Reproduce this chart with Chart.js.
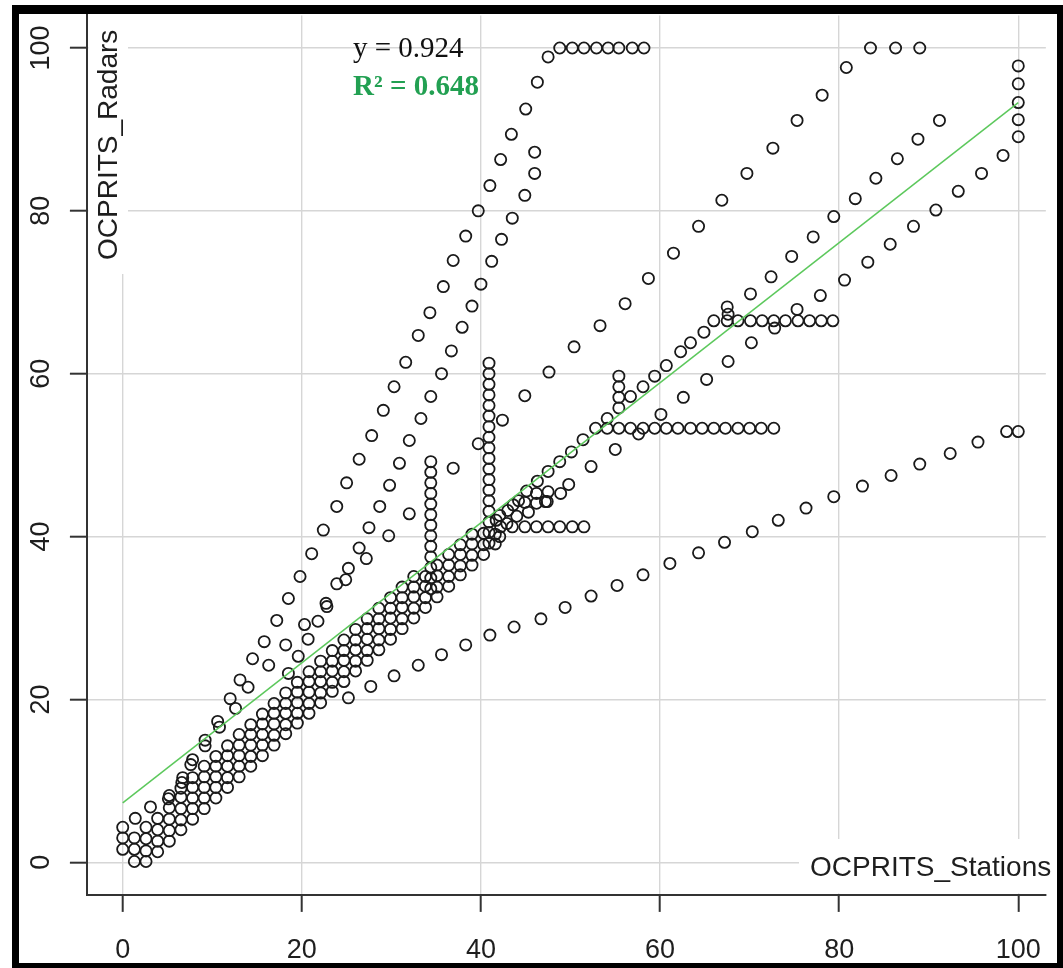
<!DOCTYPE html>
<html><head><meta charset="utf-8">
<script src="https://cdn.jsdelivr.net/npm/chart.js@4.4.1/dist/chart.umd.min.js"></script>
<style>
html,body{margin:0;padding:0;background:#fff;overflow:hidden;}
#wrap{position:relative;width:1063px;height:968px;overflow:hidden;}
canvas{position:absolute;left:0;top:0;}
.frame{position:absolute;background:#000;}
</style></head><body>
<div id="wrap">
<canvas id="c" width="1063" height="968"></canvas>
<div class="frame" style="left:12px;top:5px;width:1051px;height:9px"></div>
<div class="frame" style="left:12px;top:5px;width:7px;height:963px"></div>
<div class="frame" style="left:12px;top:963px;width:1051px;height:5px"></div>
<div class="frame" style="left:1057px;top:5px;width:6px;height:963px"></div>
</div>
<script>
const xTicks = [0, 20, 40, 60, 80, 100];
const yTicks = [0, 20, 40, 60, 80, 100];
const xTitle = 'OCPRITS_Stations';
const yTitle = 'OCPRITS_Radars';
const eqText = 'y = 0.924';
const r2Text = 'R\u00B2 = 0.648';
const fitLine = [[0, 7.3], [100, 93.3]];

const topRow = [[48.8,100],[50.2,100],[51.5,100],[52.9,100],[54.2,100],[55.4,100],[56.9,100],[58.2,100],[83.5,100],[86.3,100],[89.0,100]];
const curveA = [[47.5,98.9],[46.3,95.8],[45.0,92.5],[43.4,89.4],[42.2,86.3],[41.0,83.1],[39.7,80.0],[38.3,76.9],[36.9,73.9],[35.8,70.7],[34.3,67.5],[33.0,64.7],[31.6,61.4],[30.3,58.4],[29.1,55.5],[27.8,52.4],[26.4,49.5],[25.0,46.6],[23.9,43.7],[22.4,40.8],[21.1,37.9],[19.8,35.1],[18.5,32.4],[17.2,29.7],[15.8,27.1],[14.5,25.0],[13.1,22.4],[12.0,20.1],[10.6,17.3],[9.2,15.0],[7.8,12.6],[6.7,10.4],[5.2,8.2],[3.1,6.8],[1.4,5.4]];
const curveA2 = [[14.0,21.5],[12.6,18.9],[10.8,16.6],[9.2,14.3],[7.6,12.0],[6.6,9.8],[5.1,7.8]];
const curveB = [[46.0,87.2],[46.0,84.6],[44.9,81.9],[43.5,79.1],[42.3,76.5],[41.2,73.8],[40.0,71.0],[39.0,68.3],[37.9,65.7],[36.7,62.8],[35.6,60.0],[34.4,57.2],[33.3,54.5],[32.0,51.8],[30.9,49.0],[29.8,46.3],[28.7,43.7],[27.5,41.1],[26.4,38.6],[25.2,36.1]];
const upperMisc = [[24.9,34.7],[23.9,34.2],[22.7,31.8],[22.8,31.4],[21.8,29.6],[20.3,29.2],[20.7,27.4],[19.6,25.3],[18.2,26.7],[18.5,23.2],[16.3,24.2]];
const lineD = [[27.2,37.3],[29.7,40.1],[32.0,42.8],[36.9,48.4],[39.7,51.4],[42.4,54.3],[44.9,57.3],[47.6,60.2],[50.4,63.3],[53.3,65.9],[56.1,68.6],[58.7,71.7],[61.5,74.8],[64.3,78.1],[66.9,81.3],[69.7,84.6],[72.6,87.7],[75.3,91.1],[78.1,94.2],[80.8,97.6]];
const lineE = [[41.7,42.0],[43.0,43.2],[44.2,44.4],[45.1,45.6],[46.3,46.8],[47.5,48.0],[48.8,49.2],[50.1,50.4],[51.4,51.9],[52.8,53.3],[54.1,54.5],[55.4,55.8],[56.7,57.2],[58.1,58.4],[59.4,59.7],[60.7,61.0],[62.3,62.7],[63.4,63.8],[64.9,65.1],[67.6,67.3],[70.1,69.8],[72.4,71.9],[74.7,74.4],[77.1,76.8],[79.4,79.3],[81.8,81.5],[84.1,84.0],[86.5,86.4],[88.8,88.8],[91.2,91.1]];
const lineF = [[47.2,44.3],[49.8,46.4],[52.3,48.6],[55.0,50.7],[60.1,55.0],[62.6,57.1],[65.2,59.3],[67.6,61.5],[70.2,63.8],[72.8,65.6],[75.3,67.9],[77.9,69.6],[80.6,71.5],[83.2,73.7],[85.7,75.9],[88.3,78.1],[90.8,80.1],[93.3,82.4],[95.9,84.6],[98.3,86.8]];
const lineG = [[25.2,20.2],[27.7,21.6],[30.3,22.9],[33.0,24.2],[35.6,25.5],[38.3,26.7],[41.0,27.9],[43.7,28.9],[46.7,29.9],[49.4,31.3],[52.3,32.7],[55.2,34.0],[58.1,35.3],[61.1,36.7],[64.3,38.0],[67.2,39.3],[70.3,40.6],[73.2,42.0],[76.3,43.5],[79.4,44.9],[82.6,46.2],[85.8,47.5],[89.0,48.9],[92.4,50.2],[95.5,51.6],[98.7,52.9],[100,52.9]];
const col100 = [[100,97.8],[100,95.6],[100,93.3],[100,91.2],[100,89.1]];
const stack55 = [[55.4,59.7],[55.4,58.4],[55.4,57.1]];
const row53 = [[54.1,53.3],[55.4,53.3],[56.7,53.3],[58.1,53.3],[59.4,53.3],[60.7,53.3],[62.0,53.3],[63.4,53.3],[64.7,53.3],[66.0,53.3],[67.3,53.3],[68.7,53.3],[70.0,53.3],[71.3,53.3],[72.7,53.3],[57.6,52.6]];
const row66 = [[66.0,66.5],[67.5,66.5],[68.7,66.5],[70.1,66.5],[71.4,66.5],[72.7,66.5],[74.0,66.5],[75.4,66.5],[76.7,66.5],[78.0,66.5],[79.3,66.5],[67.5,68.2]];
const row41 = [[42.2,41.2],[43.5,41.2],[44.9,41.2],[46.2,41.2],[47.5,41.2],[48.8,41.2],[50.2,41.2],[51.5,41.2]];
const stack41 = [[40.9,61.3],[40.9,60.0],[40.9,58.7],[40.9,57.4],[40.9,56.1],[40.9,54.8],[40.9,53.5],[40.9,52.2],[40.9,50.9],[40.9,49.6],[40.9,48.3],[40.9,47.0],[40.9,45.7],[40.9,44.4],[40.9,43.1],[40.9,41.8],[40.9,40.5],[40.9,39.2]];
const stack34 = [[34.4,49.2],[34.4,47.9],[34.4,46.6],[34.4,45.3],[34.4,44.0],[34.4,42.7],[34.4,41.4],[34.4,40.1],[34.4,38.8],[34.4,37.5],[34.4,36.2],[34.4,34.9],[34.4,33.6]];
const cluster = [[42.1,42.6],[42.1,40.0],[43.6,43.9],[44.9,44.2],[46.2,45.3],[47.5,45.5],[48.9,45.3],[46.2,44.1],[47.4,44.3],[45.3,43.0],[44.0,42.5]];
const col0 = [[0,1.6],[0,3.0],[0,4.3]];
const bandD1 = [[2.6,0.1],[3.9,1.3],[5.2,2.6],[6.5,4.0],[7.8,5.3],[9.1,6.6],[10.4,7.9],[11.7,9.2],[13.0,10.5],[14.3,11.8],[15.6,13.1],[16.9,14.4],[18.2,15.8],[19.5,17.1],[20.8,18.3],[22.1,19.6],[23.4,21.0],[24.7,22.2],[26.0,23.5],[27.3,24.8],[28.6,26.1],[29.9,27.4],[31.2,28.7],[32.5,30.0],[33.8,31.3],[35.1,32.6],[36.4,33.9],[37.7,35.3],[39.0,36.5],[40.3,37.8],[41.6,39.1]];
const bandD2 = [[1.3,0.1],[2.6,1.4],[3.9,2.6],[5.2,3.9],[6.5,5.2],[7.8,6.6],[9.1,7.9],[10.4,9.2],[11.7,10.4],[13.0,11.8],[14.3,13.0],[15.6,14.4],[16.9,15.6],[18.2,16.9],[19.5,18.3],[20.8,19.5],[22.1,20.8],[23.4,22.1],[24.7,23.4],[26.0,24.7],[27.3,26.0],[28.6,27.3],[29.9,28.6],[31.2,29.9],[32.5,31.2],[33.8,32.5],[35.1,33.8],[36.4,35.1],[37.7,36.4],[39.0,37.7],[40.3,39.0],[41.6,40.3],[42.9,41.6]];
const bandD3 = [[1.3,1.6],[2.6,2.9],[3.9,4.0],[5.2,5.3],[6.5,6.6],[7.8,7.9],[9.1,9.2],[10.4,10.5],[11.7,11.8],[13.0,13.1],[14.3,14.4],[15.6,15.7],[16.9,17.0],[18.2,18.3],[19.5,19.6],[20.8,20.9],[22.1,22.2],[23.4,23.5],[24.7,24.8],[26.0,26.1],[27.3,27.4],[28.6,28.7],[29.9,30.0],[31.2,31.3],[32.5,32.6],[33.8,33.9],[35.1,35.2],[36.4,36.5],[37.7,37.8],[39.0,39.1],[40.3,40.4]];
const bandD4 = [[1.3,3.0],[2.6,4.3],[3.9,5.4],[5.2,6.7],[6.5,8.0],[7.8,9.2],[9.1,10.5],[10.4,11.8],[11.7,13.1],[13.0,14.4],[14.3,15.7],[15.6,17.0],[16.9,18.3],[18.2,19.5],[19.5,20.9],[20.8,22.2],[22.1,23.4],[23.4,24.7],[24.7,26.0],[26.0,27.3],[27.3,28.7],[28.6,29.9],[29.9,31.2],[31.2,32.5],[32.5,33.8],[33.8,35.1],[35.1,36.5],[36.4,37.8],[37.7,39.0],[39.0,40.3]];
const bandD5 = [[6.5,9.1],[7.8,10.4],[9.1,11.8],[10.4,13.0],[11.7,14.3],[13.0,15.7],[14.3,16.9],[15.6,18.2],[16.9,19.5],[18.2,20.8],[19.5,22.1],[20.8,23.4],[22.1,24.7],[23.4,26.0],[24.7,27.3],[26.0,28.6],[27.3,29.9],[28.6,31.2],[29.9,32.5],[31.2,33.8],[32.5,35.1]];

const groups = [topRow, curveA, curveA2, curveB, upperMisc, lineD, lineE, lineF, lineG, col100, stack55, row53, row66, row41, stack41, stack34, cluster, col0, bandD1, bandD2, bandD3, bandD4, bandD5];
const toXY = g => g.map(p => ({x: p[0], y: p[1]}));

const SANS = '"Liberation Sans", Arial, Helvetica, sans-serif';
const SERIF = '"Liberation Serif", "Times New Roman", serif';

const overlay = {
  id: 'overlay',
  beforeDatasetsDraw(chart) {
    const {ctx, chartArea: a} = chart;
    ctx.save();
    ctx.fillStyle = '#fff';
    ctx.fillRect(a.left + 1.5, a.top - 2, 128 - (a.left + 1.5), 274 - (a.top - 2));
    ctx.fillRect(799, 839, a.right - 799, a.bottom - 1.5 - 839);
    ctx.restore();
  },
  afterDraw(chart) {
    const {ctx} = chart;
    const ys = chart.scales.y;
    ctx.save();
    ctx.fillStyle = '#1e1e1e';
    ctx.font = '27px ' + SANS;
    ctx.textAlign = 'center';
    ctx.textBaseline = 'alphabetic';
    yTicks.forEach(v => {
      const py = ys.getPixelForValue(v);
      ctx.save();
      ctx.translate(49, py);
      ctx.rotate(-Math.PI / 2);
      ctx.fillText(String(v), 0, 0);
      ctx.restore();
    });
    ctx.font = '28px ' + SANS;
    ctx.textAlign = 'left';
    ctx.save();
    ctx.translate(116.5, 260);
    ctx.rotate(-Math.PI / 2);
    ctx.fillText(yTitle, 0, 0);
    ctx.restore();
    ctx.fillText(xTitle, 810, 876);
    ctx.font = '29px ' + SERIF;
    ctx.fillStyle = '#111';
    ctx.fillText(eqText, 353, 57);
    ctx.font = 'bold 29px ' + SERIF;
    ctx.fillStyle = '#22a052';
    ctx.fillText(r2Text, 353, 95);
    ctx.restore();
  }
};

const datasets = groups.map(g => ({
  type: 'scatter',
  data: toXY(g),
  pointStyle: 'circle',
  pointRadius: 5.6,
  pointBorderWidth: 1.8,
  pointBorderColor: '#1a1a1a',
  pointBackgroundColor: 'rgba(0,0,0,0)',
  pointHoverRadius: 5.6,
  order: 2
}));
datasets.push({
  type: 'line',
  data: toXY(fitLine),
  borderColor: '#5cc85c',
  borderWidth: 1.5,
  pointRadius: 0,
  fill: false,
  order: 1
});

new Chart(document.getElementById('c'), {
  type: 'scatter',
  data: {datasets},
  options: {
    responsive: false,
    animation: false,
    devicePixelRatio: 1,
    layout: {padding: {top: 15.4, left: 0, right: 0, bottom: 0}},
    plugins: {legend: {display: false}, tooltip: {enabled: false}},
    scales: {
      x: {
        type: 'linear', position: 'bottom', min: -4, max: 103.08,
        afterBuildTicks: s => { s.ticks = xTicks.map(v => ({value: v})); },
        afterFit: s => { s.height = 73.1; },
        grid: {color: '#d6d6d6', lineWidth: 1.4, drawTicks: true, tickLength: 17, tickColor: '#333', tickWidth: 2},
        border: {display: true, color: '#333', width: 2},
        ticks: {font: {family: SANS, size: 27}, color: '#1e1e1e', padding: 22, maxRotation: 0, minRotation: 0, autoSkip: false}
      },
      y: {
        type: 'linear', position: 'left', min: -4, max: 104,
        afterBuildTicks: s => { s.ticks = yTicks.map(v => ({value: v})); },
        afterFit: s => { s.width = 86.9; },
        grid: {color: '#d6d6d6', lineWidth: 1.4, drawTicks: true, tickLength: 17, tickColor: '#333', tickWidth: 2},
        border: {display: true, color: '#333', width: 2},
        ticks: {display: false}
      }
    }
  },
  plugins: [overlay]
});
</script>
</body></html>
